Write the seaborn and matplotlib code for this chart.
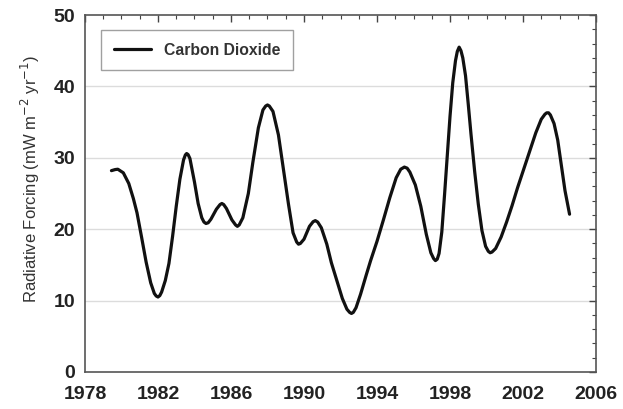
import matplotlib
matplotlib.use("Agg")
import matplotlib.pyplot as plt
import seaborn as sns
import pandas as pd
from matplotlib.ticker import MultipleLocator

years = [1979.45, 1979.65, 1979.8, 1980.1, 1980.4, 1980.65, 1980.85, 1981.1, 1981.35, 1981.6, 1981.8,
         1981.9, 1982.0, 1982.1, 1982.2, 1982.4, 1982.6, 1982.8, 1983.0, 1983.2, 1983.4, 1983.5, 1983.57,
         1983.65, 1983.75, 1984.0, 1984.2, 1984.4, 1984.52, 1984.63, 1984.75, 1984.9, 1985.2, 1985.4,
         1985.5, 1985.6, 1985.75, 1986.05, 1986.25, 1986.35, 1986.45, 1986.65, 1986.95, 1987.2, 1987.5,
         1987.75, 1987.9, 1988.0, 1988.1, 1988.3, 1988.6, 1988.85, 1989.15, 1989.4, 1989.6, 1989.7,
         1989.8, 1990.0, 1990.3, 1990.5, 1990.62, 1990.75, 1990.95, 1991.25, 1991.5, 1991.8, 1992.1,
         1992.35, 1992.5, 1992.6, 1992.7, 1992.85, 1993.1, 1993.4, 1993.65, 1994.0, 1994.35, 1994.7,
         1995.05, 1995.3, 1995.5, 1995.65, 1995.8, 1996.1, 1996.4, 1996.7, 1996.95, 1997.1, 1997.2,
         1997.3, 1997.4, 1997.55, 1997.7, 1997.85, 1998.0, 1998.15, 1998.3, 1998.4, 1998.5, 1998.6,
         1998.7, 1998.85, 1999.0, 1999.15, 1999.35, 1999.55, 1999.75, 1999.95, 2000.1, 2000.2, 2000.3,
         2000.5, 2000.8, 2001.1, 2001.4, 2001.7, 2002.0, 2002.35, 2002.7, 2003.0, 2003.2, 2003.3,
         2003.4, 2003.5, 2003.7, 2003.9, 2004.1, 2004.3, 2004.55]
co2_forcing = [28.2, 28.35, 28.4, 27.9, 26.4, 24.3, 22.3, 18.9, 15.4, 12.5, 11.0,
               10.65, 10.5, 10.7, 11.2, 12.8, 15.2, 19.0, 23.2, 27.0, 29.7, 30.4, 30.6,
               30.45, 29.9, 26.6, 23.6, 21.6, 21.0, 20.8, 20.9, 21.4, 22.8, 23.45,
               23.6, 23.45, 22.9, 21.3, 20.6, 20.4, 20.6, 21.6, 25.0, 29.4, 34.2,
               36.7, 37.25, 37.4, 37.25, 36.5, 33.2, 28.8, 23.5, 19.5, 18.2, 17.9,
               18.0, 18.6, 20.4, 21.05, 21.2, 21.0, 20.2, 17.9, 15.3, 12.8, 10.3,
               8.8, 8.35, 8.2, 8.35, 9.0, 10.9, 13.5, 15.6, 18.3, 21.3, 24.4,
               27.2, 28.4, 28.7, 28.55, 28.0, 26.2, 23.2, 19.3, 16.7, 15.9, 15.6,
               15.8, 16.6, 19.6, 24.8, 30.3, 35.8, 40.5, 43.6, 44.9, 45.5, 45.0,
               44.0, 41.5, 37.5, 33.3, 28.1, 23.5, 19.8, 17.6, 16.9, 16.7, 16.8,
               17.3, 18.9, 21.0, 23.3, 25.8, 28.1, 30.8, 33.5, 35.4, 36.1, 36.3,
               36.3, 36.0, 34.8, 32.5, 28.9, 25.4, 22.1]
series_name = "Carbon Dioxide"
x_ticks = [1978, 1982, 1986, 1990, 1994, 1998, 2002, 2006]
y_ticks = [0, 10, 20, 30, 40, 50]

sns.set_style("white")
plt.rcParams['font.family'] = ['Liberation Sans', 'DejaVu Sans']

df = pd.DataFrame({"Year": years, "Forcing": co2_forcing, "Series": series_name})

fig = plt.figure(figsize=(6.23, 4.09), dpi=100)
ax = fig.add_axes([0.1364, 0.0905, 0.8203, 0.8728])

for v in y_ticks[1:-1]:
    ax.axhline(v, color="#dcdcdc", lw=1.0, zorder=0)

sns.lineplot(data=df, x="Year", y="Forcing", hue="Series", palette=["#111111"],
             sort=False, estimator=None, lw=2.3, ax=ax)
ax.get_lines()[-1].set_solid_joinstyle("round")

ax.set_xlim(1978, 2006)
ax.set_ylim(0, 50)
ax.set_xticks(x_ticks)
ax.set_yticks(y_ticks)
ax.xaxis.set_minor_locator(MultipleLocator(1))
ax.yaxis.set_minor_locator(MultipleLocator(2))
ax.tick_params(which="both", direction="in", top=True, right=True, color="#444444")
ax.tick_params(which="major", length=5, width=1.0, labelsize=14, labelcolor="#222222")
ax.tick_params(axis="x", which="major", pad=10)
ax.tick_params(axis="y", which="major", pad=7)
ax.tick_params(which="minor", length=3, width=0.8)
for lab in ax.get_xticklabels() + ax.get_yticklabels():
    lab.set_fontweight("bold")
for s in ax.spines.values():
    s.set_color("#555555")
    s.set_linewidth(1.2)

ax.set_xlabel("")
ax.set_ylabel("Radiative Forcing (mW m$^{-2}$ yr$^{-1}$)", fontsize=12, color="#333333")
ax.yaxis.set_label_coords(-0.085, 0.54)

leg = ax.legend(loc="upper left", bbox_to_anchor=(0.016, 0.98), frameon=True, fancybox=False,
                handlelength=2.4, borderpad=0.8, prop={"weight": "bold", "size": 11.3})
leg.get_frame().set_edgecolor("#888888")
leg.get_frame().set_linewidth(1.0)
for t in leg.get_texts():
    t.set_color("#333333")

fig.savefig("out.png", dpi=100)
